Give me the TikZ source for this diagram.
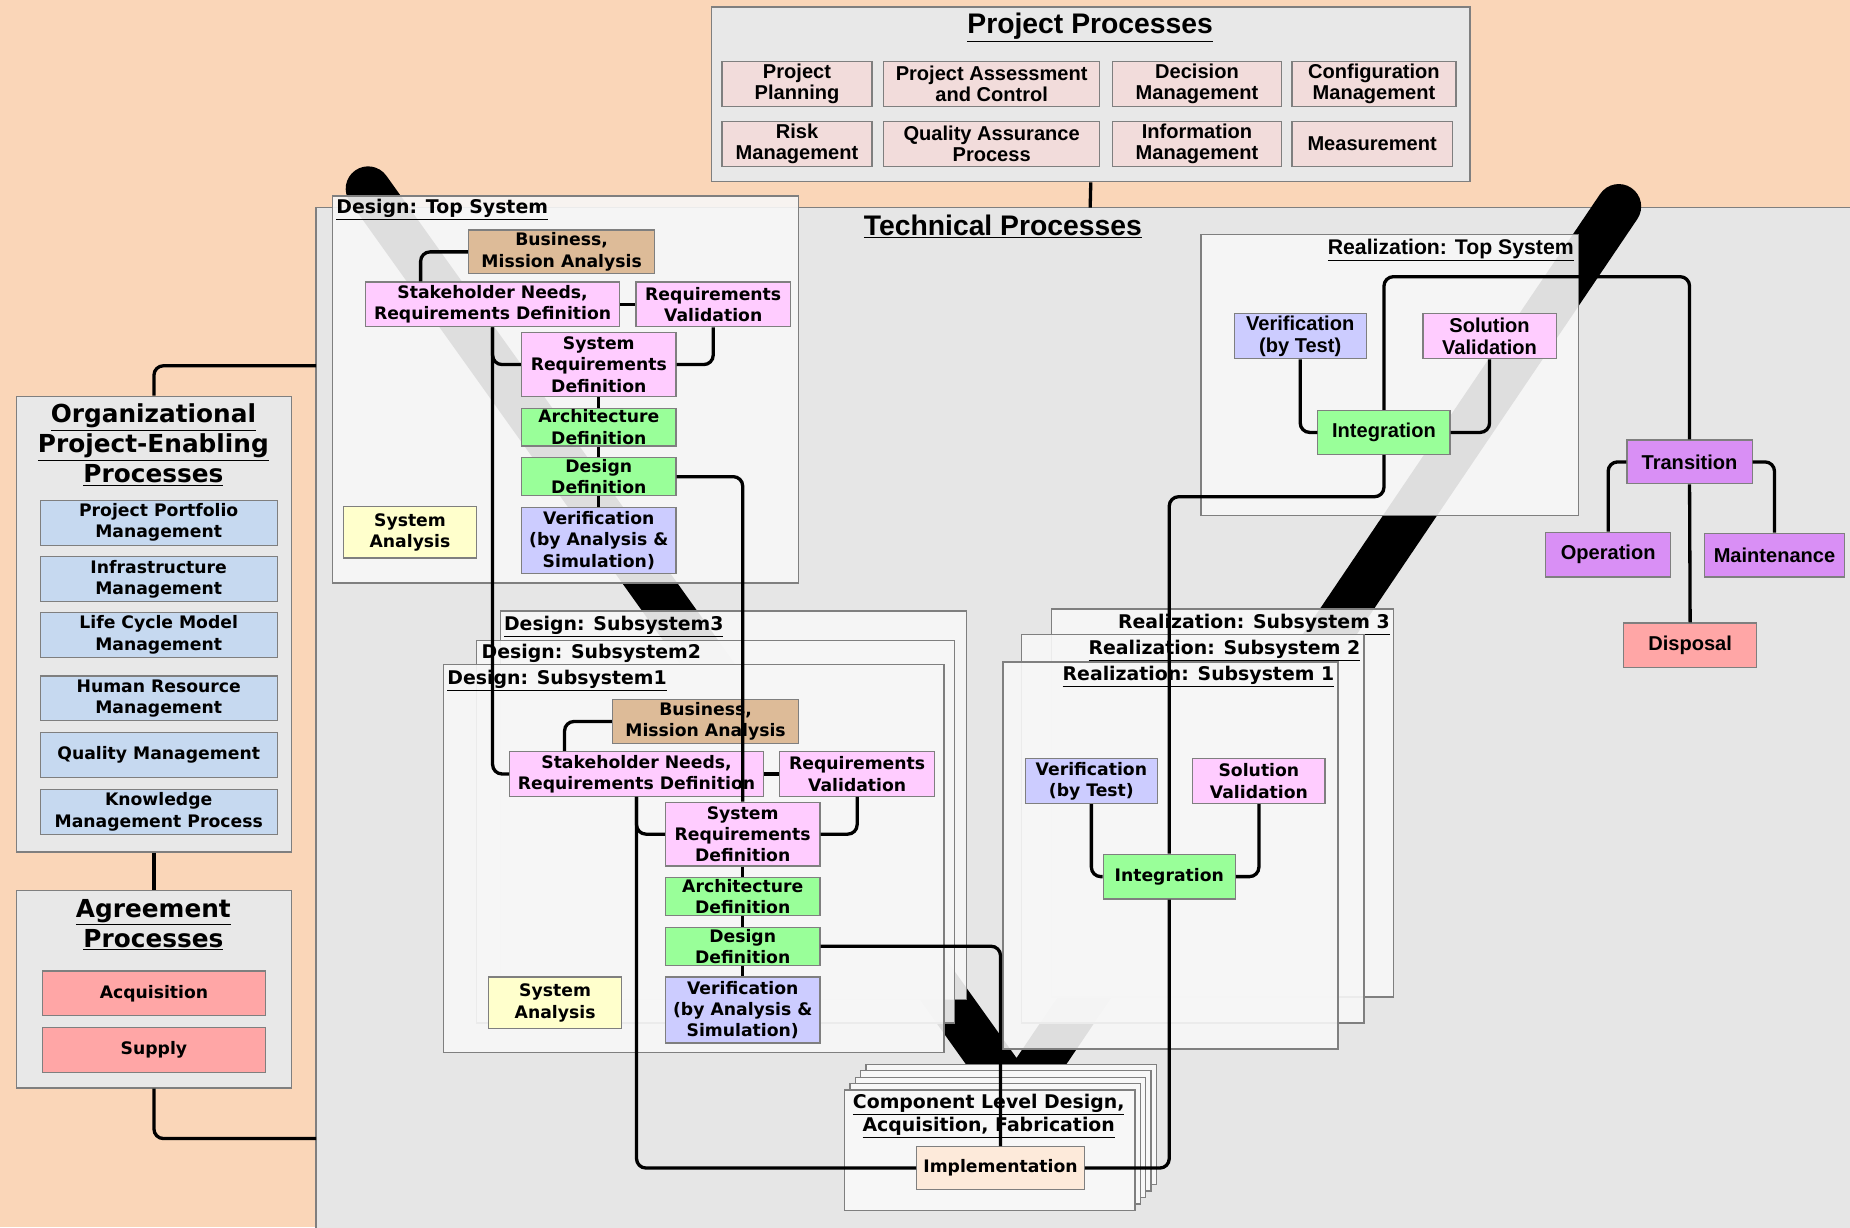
\documentclass[tikz,border=0pt]{standalone}
\usepackage{fontspec}
\setmainfont{Liberation Sans}
\newfontfamily\wide{DejaVu Sans}
\usepackage{tikz}
\definecolor{peach}{HTML}{FAD6B8}
\definecolor{techgray}{HTML}{E6E6E6}
\definecolor{panelgray}{HTML}{E8E8E8}
\definecolor{layerwhite}{HTML}{F7F7F7}
\definecolor{edge}{HTML}{7F7F7F}
\definecolor{ppink}{HTML}{F2DCDB}
\definecolor{orgblue}{HTML}{C6D9F0}
\definecolor{agrred}{HTML}{FFA6A6}
\definecolor{tan}{HTML}{DDBB98}
\definecolor{reqpink}{HTML}{FFCCFF}
\definecolor{defgreen}{HTML}{99FF99}
\definecolor{verlav}{HTML}{CCCCFF}
\definecolor{anayellow}{HTML}{FFFFCC}
\definecolor{implpeach}{HTML}{FDEADA}
\definecolor{lifepurple}{HTML}{D98FF5}
\tikzset{
  proc/.style={draw=edge,line width=1pt,inner sep=0pt,align=center},
  atxt/.style={font=\fontsize{17}{18}\selectfont\bfseries},
  wtxt/.style={font=\wide\fontsize{14.6}{18}\selectfont\bfseries},
  bigttl/.style={inner sep=0pt,font=\fontsize{24}{26}\selectfont\bfseries},
  grpttl/.style={inner sep=0pt,align=center,font=\wide\fontsize{21}{25.5}\selectfont\bfseries},
  layttl/.style={inner sep=0pt,font=\wide\fontsize{16}{19}\selectfont\bfseries},
  panel/.style={draw=edge,line width=1.2pt,fill=panelgray,inner sep=0pt},
  layer/.style={draw=edge,line width=1.2pt,fill=layerwhite,fill opacity=0.9},
  card/.style={draw=edge,line width=1.2pt,fill=layerwhite},
  conn/.style={line width=2.8pt,rounded corners=8pt},
}
\begin{document}
\begin{tikzpicture}[x=1pt,y=-1pt]
\useasboundingbox (0,0) rectangle (1568,1040);
\fill[peach] (0,0) rectangle (1568,1040);

% technical processes area
\fill[techgray] (268,176) rectangle (1575,1045);
\draw[draw=edge,line width=1.2pt] (1575,176) -- (268,176) -- (268,1045);
\node[bigttl] (techttl) at (850,192) {\underline{Technical Processes}};
\coordinate (techtop) at (924,176);
\coordinate (techorg) at (268,310);
\coordinate (techagr) at (268,965);

% project processes
\node[panel,minimum width=643,minimum height=148] (proj) at (924.5,80) {};
\node[bigttl] (projttl) at (924,23) {\underline{Project Processes}};
\node[proc,atxt,fill=ppink,minimum width=127,minimum height=38] (pplan) at (675.5,71) {Project\\Planning};
\node[proc,atxt,fill=ppink,minimum width=183,minimum height=38] (passess) at (840.5,71) {Project Assessment\\and Control};
\node[proc,atxt,fill=ppink,minimum width=143,minimum height=38] (decm) at (1014.5,71) {Decision\\Management};
\node[proc,atxt,fill=ppink,minimum width=139,minimum height=38] (confm) at (1164.5,71) {Configuration\\Management};
\node[proc,atxt,fill=ppink,minimum width=127,minimum height=38] (riskm) at (675.5,122) {Risk\\Management};
\node[proc,atxt,fill=ppink,minimum width=183,minimum height=38] (qap) at (840.5,122) {Quality Assurance\\Process};
\node[proc,atxt,fill=ppink,minimum width=143,minimum height=38] (infm) at (1014.5,122) {Information\\Management};
\node[proc,atxt,fill=ppink,minimum width=136,minimum height=38] (meas) at (1163,122) {Measurement};

% organizational project-enabling processes
\node[panel,minimum width=233,minimum height=386] (org) at (130.5,529) {};
\node[grpttl] (orgttl) at (130,377) {\underline{Organizational}\\\underline{Project-Enabling}\\\underline{Processes}};
\node[proc,wtxt,fill=orgblue,minimum width=201,minimum height=38] (portm) at (134.5,443) {Project Portfolio\\Management};
\node[proc,wtxt,fill=orgblue,minimum width=201,minimum height=38] (infram) at (134.5,491) {Infrastructure\\Management};
\node[proc,wtxt,fill=orgblue,minimum width=201,minimum height=38] (lcmm) at (134.5,538) {Life Cycle Model\\Management};
\node[proc,wtxt,fill=orgblue,minimum width=201,minimum height=38] (hrm) at (134.5,592) {Human Resource\\Management};
\node[proc,wtxt,fill=orgblue,minimum width=201,minimum height=38] (qualm) at (134.5,640) {Quality Management};
\node[proc,wtxt,fill=orgblue,minimum width=201,minimum height=38] (knowm) at (134.5,688) {Knowledge\\Management Process};

% agreement processes
\node[panel,minimum width=233,minimum height=167] (agr) at (130.5,838.5) {};
\node[grpttl] (agrttl) at (130,784) {\underline{Agreement}\\\underline{Processes}};
\node[proc,wtxt,fill=agrred,minimum width=189,minimum height=38] (acq) at (130.5,842) {Acquisition};
\node[proc,wtxt,fill=agrred,minimum width=189,minimum height=38] (sup) at (130.5,890) {Supply};

% the V band
\draw[line width=38,line cap=round,line join=miter] (312,160) -- (862,930) -- (1372,175);

% design: top system
\draw[layer] (282,166) rectangle (677,494);
\node[layttl,anchor=west] (dtopttl) at (285,178) {\underline{Design: Top System}};
\node[proc,wtxt,fill=tan,minimum width=158,minimum height=37] (bma1) at (476,213.5) {Business,\\Mission Analysis};
\node[proc,wtxt,fill=reqpink,minimum width=215,minimum height=38] (snr1) at (417.5,258) {Stakeholder Needs,\\Requirements Definition};
\node[proc,wtxt,fill=reqpink,minimum width=131,minimum height=38] (rv1) at (604.5,258) {Requirements\\Validation};
\node[proc,wtxt,fill=reqpink,minimum width=131,minimum height=54] (srd1) at (507.5,309) {System\\Requirements\\Definition};
\node[proc,wtxt,fill=defgreen,minimum width=131,minimum height=32] (ad1) at (507.5,362) {Architecture\\Definition};
\node[proc,wtxt,fill=defgreen,minimum width=131,minimum height=32] (dd1) at (507.5,404) {Design\\Definition};
\node[proc,wtxt,fill=verlav,minimum width=131,minimum height=56] (va1) at (507.5,458) {Verification\\(by Analysis \&\\Simulation)};
\node[proc,wtxt,fill=anayellow,minimum width=113,minimum height=44] (sa1) at (347.5,451) {System\\Analysis};

% design: subsystems
\draw[layer] (424,518) rectangle (819,847);
\node[layttl,anchor=west] (ds3ttl) at (427,531) {\underline{Design: Subsystem3}};
\draw[layer] (404,543) rectangle (809,867);
\node[layttl,anchor=west] (ds2ttl) at (408,555) {\underline{Design: Subsystem2}};
\draw[layer] (376,563) rectangle (800,892);
\node[layttl,anchor=west] (ds1ttl) at (379,577) {\underline{Design: Subsystem1}};
\node[proc,wtxt,fill=tan,minimum width=158,minimum height=37] (bma2) at (598,611.5) {Business,\\Mission Analysis};
\node[proc,wtxt,fill=reqpink,minimum width=215,minimum height=38] (snr2) at (539.5,656) {Stakeholder Needs,\\Requirements Definition};
\node[proc,wtxt,fill=reqpink,minimum width=131,minimum height=38] (rv2) at (726.5,656) {Requirements\\Validation};
\node[proc,wtxt,fill=reqpink,minimum width=131,minimum height=54] (srd2) at (629.5,707) {System\\Requirements\\Definition};
\node[proc,wtxt,fill=defgreen,minimum width=131,minimum height=32] (ad2) at (629.5,760) {Architecture\\Definition};
\node[proc,wtxt,fill=defgreen,minimum width=131,minimum height=32] (dd2) at (629.5,802) {Design\\Definition};
\node[proc,wtxt,fill=verlav,minimum width=131,minimum height=56] (va2) at (629.5,856) {Verification\\(by Analysis \&\\Simulation)};
\node[proc,wtxt,fill=anayellow,minimum width=113,minimum height=44] (sa2) at (470.5,850) {System\\Analysis};

% realization: top system
\draw[layer] (1018,199) rectangle (1338,437);
\node[inner sep=0pt,anchor=east,font=\fontsize{18}{20}\selectfont\bfseries] (rtopttl) at (1334,212) {\underline{Realization: Top System}};
\node[proc,atxt,fill=verlav,minimum width=112,minimum height=38] (vt1) at (1102,285) {Verification\\(by Test)};
\node[proc,atxt,fill=reqpink,minimum width=113,minimum height=38] (sv1) at (1262.5,285) {Solution\\Validation};
\node[proc,atxt,fill=defgreen,minimum width=112,minimum height=37] (int1) at (1173,366.5) {Integration};
\coordinate (rjoin) at (1173,421);

% realization: subsystems
\draw[layer] (891,516) rectangle (1181,845);
\node[layttl,anchor=east] (rs3ttl) at (1178,529) {\underline{Realization: Subsystem 3}};
\draw[layer] (866,538) rectangle (1156,867);
\node[layttl,anchor=east] (rs2ttl) at (1153,551) {\underline{Realization: Subsystem 2}};
\draw[layer] (850,561) rectangle (1134,889);
\node[layttl,anchor=east] (rs1ttl) at (1131,573) {\underline{Realization: Subsystem 1}};
\node[proc,wtxt,fill=verlav,minimum width=112,minimum height=38] (vt2) at (925,662) {Verification\\(by Test)};
\node[proc,wtxt,fill=reqpink,minimum width=112,minimum height=38] (sv2) at (1067,662) {Solution\\Validation};
\node[proc,wtxt,fill=defgreen,minimum width=112,minimum height=38] (int2) at (991,743) {Integration};

% component level
\foreach \k in {4,3,2,1}
  \draw[card,shift={(\k*4.5,-\k*5.5)}] (716,924) rectangle (962,1026);
\draw[card] (716,924) rectangle (962,1026);
\node[layttl,align=center] (compttl) at (838,946) {\underline{Component Level Design,}\\\underline{Acquisition, Fabrication}};
\node[proc,wtxt,fill=implpeach,minimum width=142,minimum height=36] (impl) at (848,990) {Implementation};

% life cycle after integration
\node[proc,atxt,fill=lifepurple,minimum width=106,minimum height=37] (trans) at (1432,391.5) {Transition};
\node[proc,atxt,fill=lifepurple,minimum width=106,minimum height=38] (oper) at (1363,470) {Operation};
\node[proc,atxt,fill=lifepurple,minimum width=118,minimum height=37] (maint) at (1504,470.5) {Maintenance};
\node[proc,atxt,fill=agrred,minimum width=113,minimum height=38] (disp) at (1432.5,547) {Disposal};

% connectors
\draw[conn] (proj.south) -- (techtop);
\draw[conn] (org.north) |- (techorg);
\draw[conn] (org.south) -- (agr.north);
\draw[conn] (agr.south) |- (techagr);

\draw[conn] (bma1.west) -| ([xshift=47pt]snr1.north west);
\draw[conn] (snr1.east) -- (rv1.west);
\draw[conn] (rv1.south) |- (srd1.east);
\draw[conn] (snr1.south) |- (srd1.west);
\draw[conn] (srd1.south) -- (ad1.north);
\draw[conn] (ad1.south) -- (dd1.north);
\draw[conn] (dd1.south) -- (va1.north);
\draw[conn] (snr1.south) |- (snr2.west);
\draw[conn] (dd1.east) -| (srd2.north);

\draw[conn] (bma2.west) -| ([xshift=47pt]snr2.north west);
\draw[conn] (snr2.east) -- (rv2.west);
\draw[conn] (rv2.south) |- (srd2.east);
\draw[conn] (snr2.south) |- (srd2.west);
\draw[conn] (srd2.south) -- (ad2.north);
\draw[conn] (ad2.south) -- (dd2.north);
\draw[conn] (dd2.south) -- (va2.north);
\draw[conn] (snr2.south) |- (impl.west);
\draw[conn] (dd2.east) -| (impl.north);

\draw[conn] (impl.east) -| (int2.south);
\draw[conn] (vt2.south) |- (int2.west);
\draw[conn] (sv2.south) |- (int2.east);
\draw[conn] (int2.north) |- (rjoin) -- (int1.south);
\draw[conn] (vt1.south) |- (int1.west);
\draw[conn] (sv1.south) |- (int1.east);
\draw[conn] (int1.north) -- ++(0,-113) -| (trans.north);
\draw[conn] (trans.west) -| (oper.north);
\draw[conn] (trans.east) -| (maint.north);
\draw[conn] (trans.south) -- (disp.north);
\end{tikzpicture}
\end{document}
